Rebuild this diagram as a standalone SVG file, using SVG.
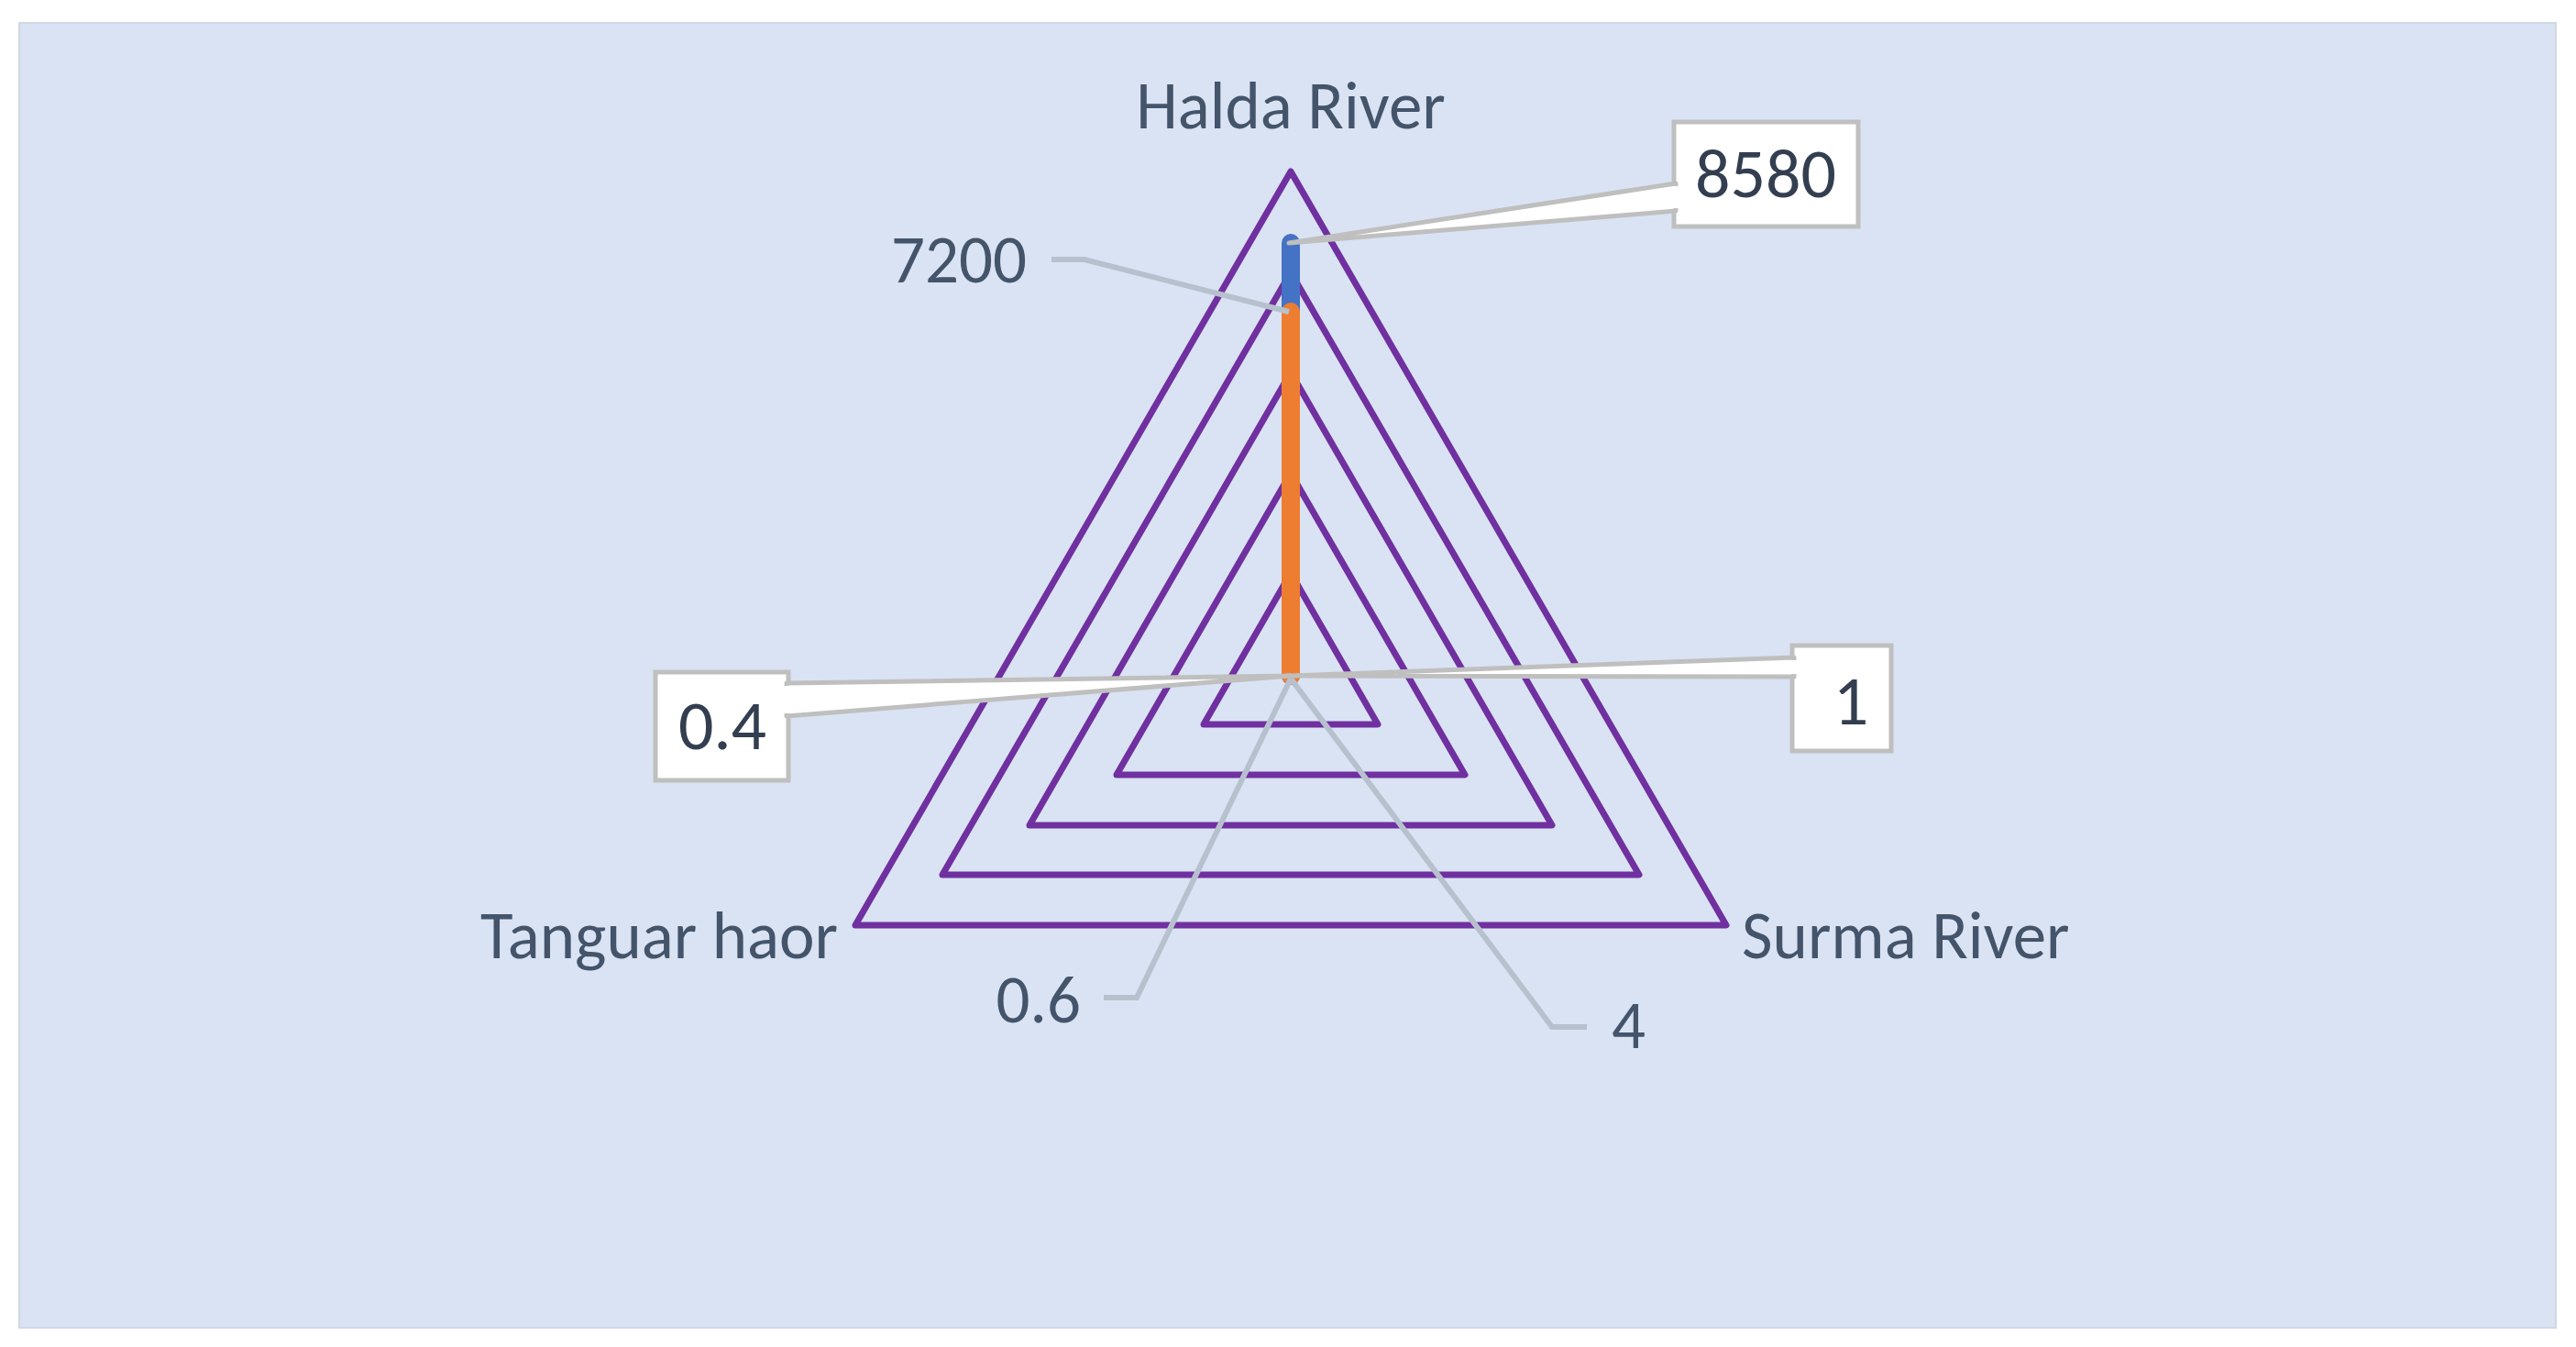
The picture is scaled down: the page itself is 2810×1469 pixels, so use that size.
<svg xmlns="http://www.w3.org/2000/svg" width="2810" height="1469" viewBox="0 0 2810 1469">
<style>
.ring{fill:none;stroke:#7030A0;stroke-width:7;stroke-linejoin:round}
.t{font-family:Calibri,"Liberation Sans",Arial,sans-serif;fill:#44546A;font-size:73px}
.lead{fill:none;stroke:#B7C1CE;stroke-width:6}
.box{fill:#fff;stroke:#BFBFBF;stroke-width:5}
.bt{font-family:Calibri,"Liberation Sans",Arial,sans-serif;fill:#333F50;font-size:76px;text-anchor:middle}
</style>
<rect x="21" y="25" width="2767" height="1423" fill="#DAE3F3" stroke="#D0D7E5" stroke-width="2"/>
<g id="grid">
<polygon class="ring" points="1408,187 1883,1009 933,1009"/>
<polygon class="ring" points="1408,297 1788,954 1028,954"/>
<polygon class="ring" points="1408,406 1693,900 1123,900"/>
<polygon class="ring" points="1408,516 1598,845 1218,845"/>
<polygon class="ring" points="1408,625 1503,790 1313,790"/>
</g>
<g id="series">
<line x1="1408" y1="737" x2="1408" y2="265" stroke="#4472C4" stroke-width="20" stroke-linecap="round"/>
<line x1="1408" y1="737" x2="1408" y2="340" stroke="#ED7D31" stroke-width="20" stroke-linecap="round"/>
</g>
<g id="axis-labels">
<text class="t" x="1408" y="140" text-anchor="middle">Halda River</text>
<text class="t" x="914" y="1045" text-anchor="end">Tanguar haor</text>
<text class="t" x="1900" y="1045">Surma River</text>
</g>
<g id="connectors">
<polyline class="lead" points="1147,283 1183,283 1406,340"/>
<polyline class="lead" points="1204,1088 1240,1088 1408,740"/>
<polyline class="lead" points="1408,740 1693,1120 1731,1120"/>
</g>
<g id="label-7200"><text class="t" x="1120" y="308" text-anchor="end">7200</text></g>
<g id="label-0.6"><text class="t" x="1179" y="1115" text-anchor="end">0.6</text></g>
<g id="label-4"><text class="t" x="1758" y="1143">4</text></g>
<g id="callout-8580">
<rect class="box" x="1826" y="133" width="201" height="114"/>
<polygon points="1406,265 1828,200 1828,230" fill="#fff" stroke="#BFBFBF" stroke-width="5" stroke-linejoin="round"/>
<line x1="1828" y1="203" x2="1828" y2="227" stroke="#fff" stroke-width="6"/>
<text class="bt" x="1926" y="215">8580</text>
</g>
<g id="callout-0.4">
<rect class="box" x="715" y="733" width="145" height="118"/>
<polygon points="1408,737 858,745 858,781" fill="#fff" stroke="#BFBFBF" stroke-width="5" stroke-linejoin="round"/>
<line x1="858" y1="748" x2="858" y2="778" stroke="#fff" stroke-width="6"/>
<text class="bt" x="788" y="817">0.4</text>
</g>
<g id="callout-1">
<rect class="box" x="1955" y="704" width="108" height="115"/>
<polygon points="1408,737 1957,717 1957,738" fill="#fff" stroke="#BFBFBF" stroke-width="5" stroke-linejoin="round"/>
<line x1="1957" y1="720" x2="1957" y2="735" stroke="#fff" stroke-width="6"/>
<text class="bt" x="2019" y="790">1</text>
</g>
</svg>
